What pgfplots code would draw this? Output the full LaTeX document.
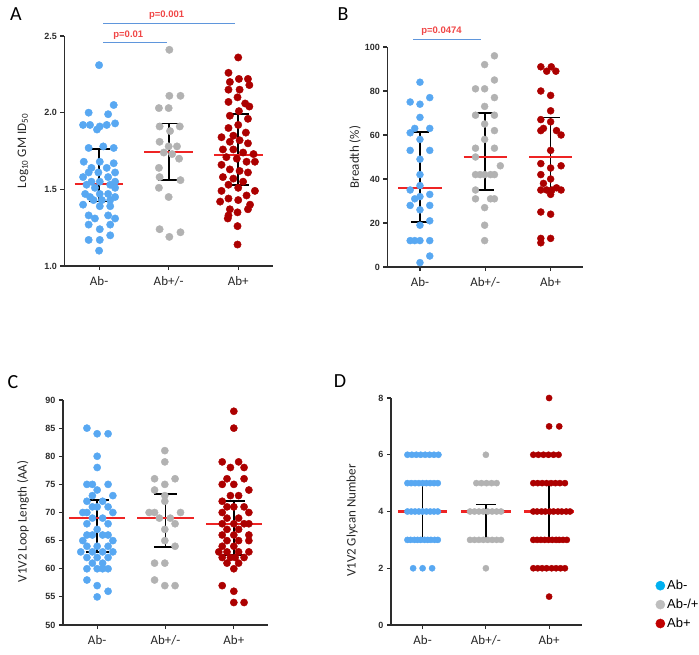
\documentclass[border=0pt]{standalone}
\usepackage{fontspec}
\setmainfont{Carlito}
\newfontfamily\arial{Liberation Sans}
\usepackage{pgfplots}
\pgfplotsset{compat=1.18}

\definecolor{abneg}{RGB}{88,168,242}
\definecolor{abmid}{RGB}{178,178,178}
\definecolor{abpos}{RGB}{172,0,0}
\definecolor{medred}{RGB}{238,36,36}
\definecolor{sigblue}{RGB}{95,150,220}
\definecolor{ptext}{RGB}{240,70,70}
\definecolor{axgray}{RGB}{45,45,45}
\definecolor{legblue}{RGB}{0,176,240}
\definecolor{leggray}{RGB}{190,190,190}
\definecolor{legred}{RGB}{192,0,0}

\pgfplotsset{
  dotplot/.style={
    scale only axis,
    axis lines*=left,
    axis line style={axgray, line width=1.4pt},
    tick align=outside,
    major tick length=4pt,
    tick style={axgray, line width=1.1pt},
    xtick={0,1,2}, xticklabels={Ab-,Ab+/-,Ab+},
    xticklabel style={font=\fontsize{13}{15}\selectfont, text=black!85, yshift=-3pt},
    yticklabel style={font=\arial\bfseries\fontsize{9}{10}\selectfont, text=axgray},
    /pgf/number format/assume math mode=true,
    ylabel style={font=\fontsize{13}{15}\selectfont, text=black!85, anchor=center},
    clip=false,
    xmin=-0.5, xmax=2.5,
  },
  pts/.style={only marks, mark=*, mark size=#1, mark options={draw=none}},
  bar/.style={black, line width=1.7pt},
  med/.style={medred, line width=2.2pt},
}
\tikzset{ptxt/.style={text=ptext, font=\arial\bfseries\fontsize{9.5}{10}\selectfont}}

\begin{document}
\begin{tikzpicture}
\useasboundingbox (0pt,0pt) rectangle (699pt,-654pt);

% ---------------- Panel A ----------------
\node[font=\fontsize{20}{22}\selectfont] at (16pt,-14pt) {A};
\begin{axis}[dotplot, at={(64.3pt,-266pt)}, anchor=south west,
  width=208.7pt, height=230pt,
  ymin=1.0, ymax=2.5, ytick={1.0,1.5,2.0,2.5},
  yticklabel style={/pgf/number format/.cd, fixed, fixed zerofill, precision=1},
  ylabel={Log\textsubscript{10} GM ID\textsubscript{50}},
  ylabel style={at={(axis description cs:-0.198,0.5)}}]
% interquartile bars
\addplot[bar] coordinates {(0,1.42) (0,1.765)};
\addplot[bar] coordinates {(-0.15,1.765) (0.15,1.765)};
\addplot[bar] coordinates {(-0.15,1.42) (0.15,1.42)};
\addplot[bar] coordinates {(1,1.56) (1,1.93)};
\addplot[bar] coordinates {(0.85,1.93) (1.15,1.93)};
\addplot[bar] coordinates {(0.85,1.56) (1.15,1.56)};
\addplot[bar] coordinates {(2,1.53) (2,1.99)};
\addplot[bar] coordinates {(1.85,1.99) (2.15,1.99)};
\addplot[bar] coordinates {(1.85,1.53) (2.15,1.53)};
% Ab-
\addplot[pts=3.7pt, color=abneg] coordinates {
(0.00,2.31) (0.21,2.05) (-0.15,2.00) (0.13,1.99) (-0.23,1.92) (-0.13,1.92)
(0.01,1.91) (0.11,1.92) (0.23,1.93) (-0.03,1.89) (-0.15,1.77) (0.06,1.78)
(0.21,1.77) (-0.22,1.68) (0.01,1.68) (0.21,1.67) (-0.11,1.64) (0.11,1.64)
(-0.15,1.61) (-0.01,1.61) (0.23,1.61) (-0.23,1.58) (0.13,1.58) (-0.11,1.55)
(0.01,1.55) (0.23,1.55) (-0.18,1.53) (0.16,1.53) (-0.06,1.51) (0.23,1.51)
(-0.20,1.47) (0.01,1.47) (0.13,1.47) (-0.13,1.45) (0.23,1.45) (-0.08,1.43)
(0.04,1.43) (0.16,1.43) (-0.23,1.40) (0.01,1.39) (0.16,1.39) (-0.15,1.33)
(0.13,1.33) (-0.06,1.31) (0.23,1.31) (-0.15,1.27) (0.16,1.27) (0.01,1.24)
(0.16,1.20) (-0.15,1.17) (0.01,1.17) (0.00,1.10)};
% Ab+/-
\addplot[pts=3.7pt, color=abmid] coordinates {
(1.01,2.41) (1.01,2.11) (1.17,2.11) (0.86,2.03) (1.00,2.03) (0.87,1.91)
(1.16,1.91) (1.02,1.88) (0.87,1.81) (1.00,1.78) (1.12,1.78) (0.93,1.74)
(1.05,1.73) (1.15,1.70) (0.86,1.64) (0.87,1.58) (1.17,1.56) (0.86,1.51)
(1.00,1.45) (0.87,1.24) (1.17,1.22) (1.01,1.19)};
% Ab+
\addplot[pts=3.7pt, color=abpos] coordinates {
(2.00,2.36) (1.86,2.26) (2.01,2.22) (2.14,2.22) (1.88,2.20) (2.16,2.18)
(1.86,2.15) (2.02,2.15) (1.99,2.10) (1.86,2.07) (2.10,2.06) (2.16,2.04)
(2.01,2.01) (1.88,1.98) (2.14,1.96) (2.00,1.92) (1.86,1.90) (2.11,1.87)
(1.93,1.85) (1.76,1.84) (1.88,1.81) (2.02,1.82) (2.14,1.80) (1.78,1.76)
(1.93,1.76) (2.07,1.74) (1.83,1.71) (2.22,1.73) (1.98,1.70) (2.12,1.68)
(2.24,1.68) (1.76,1.66) (1.88,1.63) (2.02,1.62) (2.14,1.61) (1.78,1.58)
(1.93,1.57) (2.07,1.55) (1.86,1.53) (2.00,1.51) (1.76,1.49) (2.24,1.49)
(2.12,1.46) (1.86,1.44) (2.00,1.43) (1.74,1.42) (2.17,1.40) (1.88,1.37)
(2.14,1.37) (1.99,1.35) (1.86,1.33) (1.85,1.31) (1.99,1.26) (1.99,1.14)};
% medians
\addplot[med] coordinates {(-0.35,1.535) (0.35,1.535)};
\addplot[med] coordinates {(0.65,1.745) (1.35,1.745)};
\addplot[med] coordinates {(1.65,1.725) (2.35,1.725)};
% significance brackets
\addplot[sigblue, line width=0.9pt] coordinates {(0.06,2.457) (0.97,2.457)};
\addplot[sigblue, line width=0.9pt] coordinates {(0.06,2.583) (1.96,2.583)};
\node[ptxt] at (axis cs:0.42,2.507) {p=0.01};
\node[ptxt] at (axis cs:0.97,2.637) {p=0.001};
\end{axis}

% ---------------- Panel B ----------------
\node[font=\fontsize{20}{22}\selectfont] at (343pt,-14pt) {B};
\begin{axis}[dotplot, at={(387.3pt,-267pt)}, anchor=south west,
  width=196pt, height=220pt,
  ymin=0, ymax=100, ytick={0,20,40,60,80,100},
  ylabel={Breadth (\%)},
  ylabel style={at={(axis description cs:-0.165,0.5)}}]
\addplot[bar] coordinates {(0,20.5) (0,61.5)};
\addplot[bar] coordinates {(-0.14,61.5) (0.14,61.5)};
\addplot[bar] coordinates {(-0.14,20.5) (0.14,20.5)};
\addplot[bar] coordinates {(1,35) (1,70)};
\addplot[bar] coordinates {(0.86,70) (1.14,70)};
\addplot[bar] coordinates {(0.86,35) (1.14,35)};
\addplot[bar] coordinates {(2,35) (2,68)};
\addplot[bar] coordinates {(1.86,68) (2.14,68)};
\addplot[bar] coordinates {(1.86,35) (2.14,35)};
% Ab-
\addplot[pts=3.5pt, color=abneg] coordinates {
(0.00,84) (0.15,77) (-0.15,75) (0.00,74) (0.00,68) (-0.08,63) (0.15,63)
(-0.15,61) (0.00,58) (-0.15,53) (0.15,53) (0.00,49) (0.00,42) (0.00,37)
(-0.15,35) (0.15,33) (0.00,32) (-0.08,31) (-0.15,28) (0.15,28) (0.00,26)
(0.15,21) (0.00,19) (-0.15,12) (-0.08,12) (0.00,12) (0.15,12) (0.15,5)
(0.00,2)};
% Ab+/-
\addplot[pts=3.5pt, color=abmid] coordinates {
(1.14,96) (0.99,92) (1.14,85) (0.85,81) (0.99,81) (1.14,77) (0.99,73)
(0.85,69) (1.14,69) (0.99,65) (1.14,62) (0.99,58) (0.85,54) (1.14,54)
(0.85,50) (1.23,46) (0.85,42) (0.92,42) (0.99,42) (1.08,42) (1.14,42)
(0.85,35) (0.85,31) (1.08,31) (1.14,31) (0.99,27) (0.99,19) (0.99,12)};
% Ab+
\addplot[pts=3.5pt, color=abpos] coordinates {
(1.85,91) (1.94,89) (2.01,91) (2.08,89) (1.85,80) (2.00,78) (2.00,71)
(1.85,67) (2.00,66) (1.89,63) (1.85,62) (2.09,62) (2.16,60) (2.00,53)
(1.85,47) (2.16,46) (2.00,45) (1.85,42) (2.00,40) (1.89,38) (2.09,36)
(1.85,35) (1.94,35) (2.02,35) (2.16,35) (2.00,33) (1.85,25) (2.00,24)
(1.85,13) (2.00,13) (1.85,11)};
\addplot[med] coordinates {(-0.33,36) (0.33,36)};
\addplot[med] coordinates {(0.67,50) (1.33,50)};
\addplot[med] coordinates {(1.67,50) (2.33,50)};
\addplot[sigblue, line width=0.9pt] coordinates {(-0.10,103.3) (0.93,103.3)};
\node[ptxt] at (axis cs:0.33,107.3) {p=0.0474};
\end{axis}

% ---------------- Panel C ----------------
\node[font=\fontsize{20}{22}\selectfont] at (13pt,-382pt) {C};
\begin{axis}[dotplot, at={(63pt,-625pt)}, anchor=south west,
  width=205pt, height=225pt,
  ymin=50, ymax=90, ytick={50,55,...,90},
  ylabel={V1V2 Loop Length (AA)},
  ylabel style={at={(axis description cs:-0.195,0.46)}}]
\addplot[bar] coordinates {(0,63) (0,72.2)};
\addplot[bar] coordinates {(-0.17,72.2) (0.17,72.2)};
\addplot[bar] coordinates {(-0.17,63) (0.17,63)};
\addplot[bar] coordinates {(1,63.9) (1,73.3)};
\addplot[bar] coordinates {(0.83,73.3) (1.17,73.3)};
\addplot[bar] coordinates {(0.83,63.9) (1.17,63.9)};
\addplot[bar] coordinates {(2,62.5) (2,72)};
\addplot[bar] coordinates {(1.83,72) (2.17,72)};
\addplot[bar] coordinates {(1.83,62.5) (2.17,62.5)};
% Ab-
\addplot[pts=3.6pt, color=abneg] coordinates {
(-0.15,85) (0.00,84) (0.16,84) (0.00,80) (0.00,78) (-0.15,75) (-0.07,75)
(0.16,75) (0.00,74) (-0.07,73) (0.23,73) (-0.15,72) (0.08,72) (-0.07,71)
(0.00,71) (0.16,71) (-0.21,70) (-0.15,70) (0.23,70) (-0.07,69) (0.08,69)
(-0.15,68) (0.16,68) (0.00,67) (-0.15,66) (-0.07,66) (0.08,66) (0.16,66)
(-0.21,65) (0.23,65) (-0.15,64) (0.00,64) (0.16,64) (-0.24,63) (-0.07,63)
(0.08,63) (0.23,63) (-0.15,62) (0.00,62) (0.16,62) (-0.07,61) (0.08,61)
(-0.15,60) (0.00,60) (0.08,60) (0.16,60) (-0.15,58) (0.00,57) (0.16,56)
(0.00,55)};
% Ab+/-
\addplot[pts=3.6pt, color=abmid] coordinates {
(0.99,81) (0.99,79) (0.84,76) (1.14,76) (0.99,75) (0.84,74) (0.99,73)
(0.99,72) (0.76,70) (0.84,70) (1.22,70) (0.91,69) (1.07,69) (1.14,68)
(0.99,67) (0.99,65) (1.14,64) (0.84,61) (0.99,61) (0.84,58) (0.99,57)
(1.14,57)};
% Ab+
\addplot[pts=3.6pt, color=abpos] coordinates {
(2.00,88) (2.00,85) (1.83,79) (2.07,79) (1.95,78) (2.15,78) (1.90,76)
(2.15,76) (1.83,75) (2.00,75) (2.22,74) (1.95,73) (2.07,73) (1.83,72)
(1.90,71) (2.00,71) (2.15,71) (1.83,70) (2.22,70) (1.90,69) (2.07,69)
(1.83,68) (2.00,68) (2.15,68) (2.22,68) (1.90,67) (2.07,67) (1.83,66)
(2.00,66) (2.22,66) (1.90,65) (2.07,65) (2.22,65) (1.83,64) (2.00,64)
(1.78,63) (1.90,63) (2.07,63) (2.22,63) (1.83,62) (1.95,62) (2.02,62)
(2.15,62) (1.90,61) (2.07,61) (2.00,60) (1.83,57) (2.00,56) (2.00,54)
(2.15,54)};
\addplot[med] coordinates {(-0.41,69) (0.41,69)};
\addplot[med] coordinates {(0.59,69) (1.41,69)};
\addplot[med] coordinates {(1.59,68) (2.41,68)};
\end{axis}

% ---------------- Panel D ----------------
\node[font=\fontsize{20}{22}\selectfont] at (340pt,-381pt) {D};
\begin{axis}[dotplot, at={(391pt,-625pt)}, anchor=south west,
  width=191pt, height=227pt, xmax=2.52,
  ymin=0, ymax=8, ytick={0,2,4,6,8},
  ylabel={V1V2 Glycan Number},
  ylabel style={at={(axis description cs:-0.204,0.46)}},
  legend style={draw=none, fill=none, inner sep=0pt, row sep=4pt,
    font=\arial\fontsize{13}{14}\selectfont,
    at={(axis description cs:1.384,0.207)}, anchor=north west},
  legend cell align=left]
\addplot[bar, forget plot] coordinates {(0,3) (0,5)};
\addplot[bar, forget plot] coordinates {(-0.15,5) (0.15,5)};
\addplot[bar, forget plot] coordinates {(-0.15,3) (0.15,3)};
\addplot[bar, forget plot] coordinates {(1,3) (1,4.25)};
\addplot[bar, forget plot] coordinates {(0.84,4.25) (1.16,4.25)};
\addplot[bar, forget plot] coordinates {(0.84,3) (1.16,3)};
\addplot[bar, forget plot] coordinates {(2,3) (2,5)};
\addplot[bar, forget plot] coordinates {(1.85,5) (2.15,5)};
\addplot[bar, forget plot] coordinates {(1.85,3) (2.15,3)};
% Ab-
\addplot[pts=3.1pt, color=abneg, forget plot] coordinates {
(-0.24,6) (-0.17,6) (-0.10,6) (-0.03,6) (0.04,6) (0.11,6) (0.18,6) (0.25,6)
(-0.24,5) (-0.18,5) (-0.12,5) (-0.06,5) (0.00,5) (0.06,5) (0.12,5) (0.18,5) (0.24,5)
(-0.24,4) (-0.18,4) (-0.12,4) (-0.06,4) (0.00,4) (0.06,4) (0.12,4) (0.18,4) (0.24,4)
(-0.24,3) (-0.19,3) (-0.13,3) (-0.08,3) (-0.03,3) (0.03,3) (0.08,3) (0.13,3) (0.19,3) (0.24,3)
(-0.15,2) (0.00,2) (0.15,2)};
% Ab+/-
\addplot[pts=3.1pt, color=abmid, forget plot] coordinates {
(1.00,6)
(0.85,5) (0.93,5) (1.01,5) (1.09,5) (1.17,5)
(0.75,4) (0.82,4) (0.89,4) (0.96,4) (1.03,4) (1.10,4) (1.17,4) (1.24,4)
(0.75,3) (0.82,3) (0.89,3) (0.96,3) (1.03,3) (1.10,3) (1.17,3) (1.24,3)
(1.00,2)};
% Ab+
\addplot[pts=3.1pt, color=abpos, forget plot] coordinates {
(2.00,8) (2.00,7) (2.16,7)
(1.75,6) (1.83,6) (1.91,6) (1.99,6) (2.07,6) (2.15,6)
(1.75,5) (1.82,5) (1.89,5) (1.96,5) (2.03,5) (2.10,5) (2.17,5) (2.25,5)
(1.75,4) (1.81,4) (1.88,4) (1.94,4) (2.01,4) (2.07,4) (2.14,4) (2.20,4) (2.27,4) (2.33,4)
(1.75,3) (1.81,3) (1.87,3) (1.93,3) (1.99,3) (2.05,3) (2.11,3) (2.16,3) (2.22,3) (2.28,3)
(1.75,2) (1.82,2) (1.89,2) (1.96,2) (2.04,2) (2.11,2) (2.18,2) (2.25,2)
(2.00,1)};
\addplot[med, forget plot] coordinates {(-0.39,4) (0.39,4)};
\addplot[med, forget plot] coordinates {(0.61,4) (1.39,4)};
\addplot[med, forget plot] coordinates {(1.61,4) (2.39,4)};
% group key
\addlegendimage{legend image code/.code={\fill[legblue] (0pt,0pt) circle (4.6pt);}}
\addlegendentry{Ab-}
\addlegendimage{legend image code/.code={\fill[leggray] (0pt,0pt) circle (4.6pt);}}
\addlegendentry{Ab-/+}
\addlegendimage{legend image code/.code={\fill[legred] (0pt,0pt) circle (4.6pt);}}
\addlegendentry{Ab+}
\end{axis}
\end{tikzpicture}
\end{document}
